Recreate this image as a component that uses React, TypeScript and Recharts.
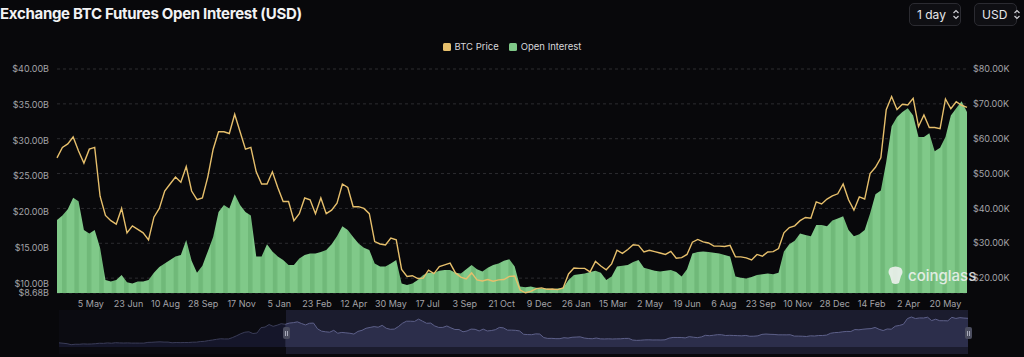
import React from 'react';
import { ComposedChart, Area, Line, XAxis, YAxis, CartesianGrid } from 'recharts';

// weekly samples starting at START
const START = '2021-03-22';
const NAV_START = '2020-02-24';
const WEEK = 7 * 86400000;

const tickDates = [
  '2021-05-05', '2021-06-23', '2021-08-10', '2021-09-28', '2021-11-17', '2022-01-05',
  '2022-02-23', '2022-04-12', '2022-05-30', '2022-07-17', '2022-09-03', '2022-10-21',
  '2022-12-09', '2023-01-26', '2023-03-15', '2023-05-02', '2023-06-19', '2023-08-06',
  '2023-09-23', '2023-11-10', '2023-12-28', '2024-02-14', '2024-04-02', '2024-05-20',
];

// BTC price, thousands USD
const priceK = [
  54.5, 57.5, 58.5, 60.5, 56.5, 53, 57, 57.5, 43.5, 38,
  36.5, 35.5, 40, 33, 35, 34, 33, 31, 37.5, 40,
  45, 47, 49, 47.5, 52, 45, 42.5, 43, 49, 57,
  62, 62, 61.5, 67, 62, 57, 57.5, 50.5, 47, 47,
  50.5, 46, 42, 42, 36.5, 38.5, 43, 42.5, 38.5, 43,
  38.5, 39.5, 41.5, 47, 46, 40.5, 40.5, 40, 38.5, 30.5,
  29.8, 29.5, 31.5, 31, 22.5, 20.5, 20.7, 19.9, 20, 22.3,
  21.3, 23.3, 23.8, 24.3, 21.5, 20.3, 19.8, 21.5, 19.5, 19.2,
  19.6, 19.1, 19.5, 19.6, 20.5, 20.6, 16.6, 15.8, 16.2, 17,
  17.2, 16.8, 16.9, 16.7, 17.2, 21.2, 22.9, 22.8, 22.8, 21.8,
  24.8, 23.5, 22.4, 24.1, 28, 27.1, 28.2, 29.6, 29.4, 27.5,
  28, 27.6, 27.2, 26.8, 27.7, 25.7, 25.9, 26.8, 30.3, 31.1,
  30.4, 30.1, 29.2, 29.2, 29.1, 29.4, 26.1, 26.1, 25.8, 25.2,
  26.8, 26.3, 27.5, 27.6, 28.5, 33, 34.5, 35, 36.5, 37.4,
  37.2, 41.9, 41.3, 42.7, 43.6, 44.2, 47, 42.5, 39.5, 43.3,
  42.7, 50, 51.8, 54.5, 68.3, 72.1, 68.4, 69.9, 69.7, 71.6,
  63.5, 66.8, 63.2, 63.2, 62.9, 71.4, 68.6, 70.6, 69.6, 69,
];

// open interest, billions USD
const oiB = [
  18.9, 19.5, 20.4, 22, 21.5, 17.5, 17, 17.5, 15, 10.5,
  10.3, 10.5, 11.2, 10.2, 10, 10.3, 10.3, 10.5, 11.5, 12.3,
  12.8, 13.3, 13.8, 14, 16.1, 13.2, 11.5, 12.5, 14.5, 16.5,
  20, 21, 20.5, 22.5, 21, 20, 19.5, 13.8, 13.8, 15.5,
  14.5, 13.8, 13.3, 12.6, 12.6, 13.5, 14, 14.2, 14.2, 14.4,
  14.7, 15.5, 16.6, 18, 17.5, 16.5, 15.6, 15, 14.7, 12.8,
  12.4, 12.4, 12.8, 13.3, 10, 9.8, 10, 10.5, 11.2, 11.5,
  11.5, 11.8, 11.9, 11.9, 11.5, 11.4, 12, 12.6, 12, 11.7,
  12.2, 12.6, 12.8, 13.2, 13.4, 12.4, 9.6, 9.5, 9.6, 9.4,
  9.3, 9.3, 9.2, 9.3, 9.4, 10.5, 11.2, 11.3, 11.4, 11.6,
  11.8, 11.5, 10.5, 11, 12.4, 12.5, 12.6, 13, 13.3, 12.2,
  12, 11.8, 11.7, 11.8, 11.9, 11.6, 11, 12, 14.2, 14.4,
  14.5, 14.4, 14.3, 14.2, 14, 13.8, 11, 10.8, 10.7, 10.9,
  11.2, 11.3, 11.4, 11.3, 11.5, 14.5, 15.5, 16, 17, 16.8,
  16.6, 18.2, 18.2, 18, 18.8, 19.1, 19.4, 17.5, 16.6, 16.9,
  17.5, 19.8, 22.5, 23, 27, 32, 33.3, 34, 34.5, 33.5,
  30.5, 30.5, 31, 28.5, 29, 30.5, 33.5, 34.5, 35.5, 34,
];

// navigator: BTC price before the visible window, thousands USD
const navPriceK = [
  9.9, 8.9, 7.9, 5.4, 6.5, 6.4, 7.3, 6.9, 7.1, 7.8,
  8.9, 8.6, 9.7, 8.9, 10.2, 9.7, 9.4, 9.7, 9.2, 9.3,
  9.2, 9.2, 11, 11.2, 11.9, 12.3, 11.7, 11.7, 10.1, 10.7,
  10.4, 10.7, 10.6, 11.4, 11.5, 13, 13.5, 15.3, 16.7, 18.4,
  19.7, 19.2, 19.3, 22.8, 27.1, 31.9, 35.5, 36.6, 32.3, 33.5,
  46.5, 47.9, 54, 49.6, 52.4, 56,
];

const oiTicks = [8.68, 10, 15, 20, 25, 30, 35, 40];
const priceTicks = [20, 30, 40, 50, 60, 70, 80];
const MONTHS = ['Jan', 'Feb', 'Mar', 'Apr', 'May', 'Jun', 'Jul', 'Aug', 'Sep', 'Oct', 'Nov', 'Dec'];

const t0 = Date.parse(START);
const navT0 = Date.parse(NAV_START);
const data = priceK.map((p, i) => ({ t: t0 + i * WEEK, price: p, oi: oiB[i] }));
const tEnd = data[data.length - 1].t;
const navData = [
  ...navPriceK.map((p, i) => ({ t: navT0 + i * WEEK, pre: p as number | null, sel: null as number | null })),
  ...priceK.map((p, i) => ({ t: t0 + i * WEEK, pre: i === 0 ? p : null, sel: p })),
];
const tickTimes = tickDates.map((d) => Date.parse(d));

const fmtDate = (t: number) => {
  const d = new Date(t);
  return `${d.getUTCDate()} ${MONTHS[d.getUTCMonth()]}`;
};

const FONT = 'Inter, Roboto, "Noto Sans", sans-serif';
const tickStyle = { fontSize: 9, fill: '#a3a3a8', fontFamily: FONT };

function Chevrons() {
  return (
    <svg width="8" height="11" viewBox="0 0 8 11" style={{ marginLeft: 6, flexShrink: 0 }}>
      <path d="M1.5 4 L4 1.5 L6.5 4" stroke="#cfcfd4" strokeWidth="1.2" fill="none" />
      <path d="M1.5 7 L4 9.5 L6.5 7" stroke="#cfcfd4" strokeWidth="1.2" fill="none" />
    </svg>
  );
}

function Select({ left, width, label }: { left: number; width: number; label: string }) {
  return (
    <div
      style={{
        position: 'absolute', left, top: 3, width, height: 23, boxSizing: 'border-box',
        border: '1px solid #2b2b31', borderRadius: 5, background: '#0f0f13',
        display: 'flex', alignItems: 'center', paddingLeft: 7, whiteSpace: 'nowrap',
        color: '#e6e6ea', fontSize: 12, fontFamily: FONT,
      }}
    >
      {label}
      <Chevrons />
    </div>
  );
}

function Handle({ left }: { left: number }) {
  return (
    <div
      style={{
        position: 'absolute', left, top: 327, width: 7, height: 12, borderRadius: 2,
        background: '#4b4d5f', display: 'flex', justifyContent: 'center', alignItems: 'center', gap: 1,
      }}
    >
      <div style={{ width: 1, height: 5, background: '#a9abbb' }} />
      <div style={{ width: 1, height: 5, background: '#a9abbb' }} />
    </div>
  );
}

export default function App() {
  return (
    <div
      style={{
        position: 'absolute', left: 0, top: 0, width: 1024, height: 357,
        background: '#08080b', overflow: 'hidden', fontFamily: FONT,
      }}
    >
      <div
        style={{
          position: 'absolute', left: 0, top: 4, color: '#f2f2f4', fontSize: 15, fontWeight: 700,
          letterSpacing: -0.3, whiteSpace: 'nowrap',
        }}
      >
        Exchange BTC Futures Open Interest (USD)
      </div>
      <Select left={909} width={52} label="1 day" />
      <Select left={974} width={43} label="USD" />

      <div
        style={{
          position: 'absolute', left: 57, top: 41, width: 910, display: 'flex', justifyContent: 'center',
          alignItems: 'center', fontSize: 9.5, color: '#d6d6da', gap: 10,
        }}
      >
        <span style={{ display: 'flex', alignItems: 'center' }}>
          <span style={{ width: 8, height: 8, background: '#e6bf6c', borderRadius: 1.5, marginRight: 4 }} />
          BTC Price
        </span>
        <span style={{ display: 'flex', alignItems: 'center' }}>
          <span style={{ width: 8, height: 8, background: '#7fc888', borderRadius: 1.5, marginRight: 4 }} />
          Open Interest
        </span>
      </div>

      <div style={{ position: 'absolute', left: 0, top: 0 }}>
        <ComposedChart width={1024} height={320} data={data} margin={{ top: 69, right: 0, left: 0, bottom: 0 }}>
          <defs>
            <pattern id="oiStripes" width="12.4" height="10" patternUnits="userSpaceOnUse">
              <rect width="12.4" height="10" fill="#80c989" />
              <rect width="4.5" height="10" fill="#70b979" />
            </pattern>
          </defs>
          <CartesianGrid yAxisId="price" vertical={false} stroke="#2c2c30" strokeDasharray="3 3" />
          <XAxis
            dataKey="t" type="number" domain={[t0, tEnd]} ticks={tickTimes} tickFormatter={fmtDate}
            interval={0} tickLine={false} axisLine={false} height={27} tick={tickStyle}
          />
          <YAxis
            yAxisId="oi" domain={[8.68, 40]} ticks={oiTicks} interval={0} width={57}
            tickLine={false} axisLine={false} tick={tickStyle}
            tickFormatter={(v: number) => `$${v.toFixed(2)}B`}
          />
          <YAxis
            yAxisId="price" orientation="right" domain={[15.74, 80]} ticks={priceTicks} interval={0} width={57}
            tickLine={false} axisLine={false} tick={tickStyle} tickMargin={0}
            tickFormatter={(v: number) => `$${v.toFixed(2)}K`}
          />
          <Area
            yAxisId="oi" dataKey="oi" type="linear" stroke="none" fill="url(#oiStripes)" fillOpacity={1}
            isAnimationActive={false}
          />
          <Line
            yAxisId="price" dataKey="price" type="linear" stroke="#e6bf6c" strokeWidth={1.4} dot={false}
            activeDot={false} isAnimationActive={false}
          />
        </ComposedChart>
      </div>

      <div style={{ position: 'absolute', left: 887, top: 266, display: 'flex', alignItems: 'center', opacity: 0.85 }}>
        <svg width="17" height="19" viewBox="0 0 17 19">
          <path d="M3 2 Q8.5 -1 14 2 Q17 6 14 10 L12 17 Q8.5 19 5 17 L3 10 Q0 6 3 2 Z" fill="#f4f4f4" />
        </svg>
        <span style={{ marginLeft: 4, fontSize: 15, fontWeight: 500, color: '#f4f4f4' }}>coinglass</span>
      </div>

      <div style={{ position: 'absolute', left: 59, top: 310, width: 909, height: 44, background: '#0b0b11' }} />
      <div style={{ position: 'absolute', left: 286, top: 310, width: 682, height: 44, background: '#1b1c2e' }} />
      <div style={{ position: 'absolute', left: 0, top: 310 }}>
        <ComposedChart width={1024} height={44} data={navData} margin={{ top: 0, right: 56, left: 59, bottom: 0 }}>
          <XAxis dataKey="t" type="number" domain={[navT0, tEnd]} hide />
          <YAxis domain={[-17, 89]} hide />
          <Area
            dataKey="pre" type="linear" stroke="#3a3c57" strokeWidth={1} fill="#15162a" fillOpacity={1}
            isAnimationActive={false} connectNulls={false}
          />
          <Area
            dataKey="sel" type="linear" stroke="#5d6089" strokeWidth={1} fill="#2c2e4b" fillOpacity={1}
            isAnimationActive={false} connectNulls={false}
          />
        </ComposedChart>
      </div>
      <Handle left={283} />
      <Handle left={965} />
    </div>
  );
}
